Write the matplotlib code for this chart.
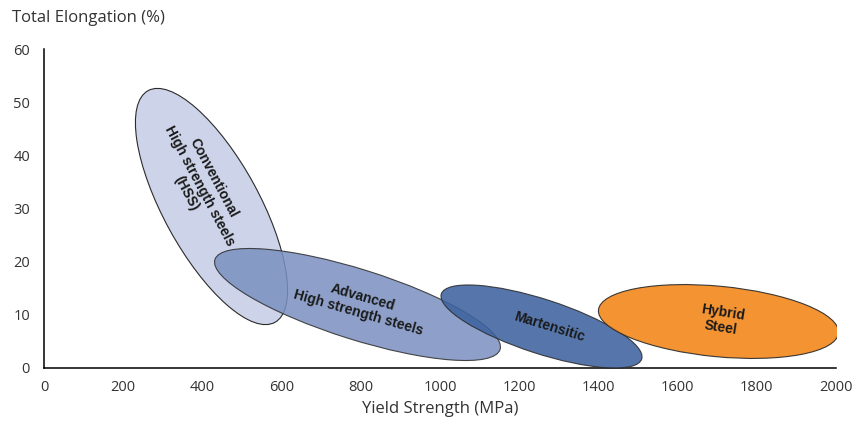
import matplotlib
matplotlib.use('Agg')
import matplotlib.pyplot as plt
from matplotlib.collections import EllipseCollection

# steel families: centre of each region and its extent (MPa, % elongation)
names = ['Conventional\nHigh strength steels\n(HSS)', 'Advanced\nHigh strength steels',
         'Martensitic', 'Hybrid\nSteel']
center_ys = [422, 790, 1254, 1702]          # yield strength, MPa
center_el = [30.5, 12.0, 7.95, 8.8]         # total elongation, %
span_long = [667, 755, 532, 609]            # long axis, MPa units
span_short = [242, 177, 137, 178]           # short axis, MPa units
tilt = [-61.3, -17.5, -18, -5.5]            # degrees
label_ys = [394, 800, 1275, 1711]
label_el = [34.3, 11.8, 7.6, 9.0]
label_rot = [-62, -16, -17, -9]

colors = ['#CDD3E8', '#7A90C0', '#3E63A0', '#F28A20']
alphas = [1.0, 0.85, 0.88, 0.92]

plt.rcParams['font.family'] = ['Open Sans', 'DejaVu Sans']

fig = plt.figure(figsize=(8.64, 4.21), dpi=100)
ax = fig.add_axes([44 / 864, 1 - 367.7 / 421, 792 / 864, 318.4 / 421])
ax.set_xlim(0, 2000)
ax.set_ylim(0, 60)

for i in range(len(names)):
    ec = EllipseCollection([span_long[i]], [span_short[i]], [tilt[i]], units='x',
                           offsets=[(center_ys[i], center_el[i])],
                           offset_transform=ax.transData,
                           facecolors=colors[i], edgecolors='#2b2b2b',
                           linewidths=0.8, alpha=alphas[i], zorder=2 + i)
    ax.add_collection(ec)
    ax.text(label_ys[i], label_el[i], names[i], rotation=label_rot[i],
            rotation_mode='anchor', ha='center', va='center', ma='center',
            family=['Liberation Sans', 'DejaVu Sans'], fontweight='bold',
            fontsize=10, color='#1a1a1a', linespacing=1.15, zorder=10)

ax.set_xticks(range(0, 2001, 200))
ax.set_yticks(range(0, 61, 10))
ax.tick_params(length=0, labelsize=10.5, labelcolor='#333333')
ax.tick_params(axis='x', pad=9)
ax.tick_params(axis='y', pad=10)
for side in ['top', 'right']:
    ax.spines[side].set_visible(False)
for side in ['left', 'bottom']:
    ax.spines[side].set_linewidth(1.1)
    ax.spines[side].set_color('black')

ax.set_xlabel('Yield Strength (MPa)', fontsize=12, color='#333333', labelpad=4)
fig.text(12 / 864, 1 - 18 / 421, 'Total Elongation (%)', fontsize=12,
         color='#333333', ha='left', va='center')

fig.savefig('out.png', dpi=100)
